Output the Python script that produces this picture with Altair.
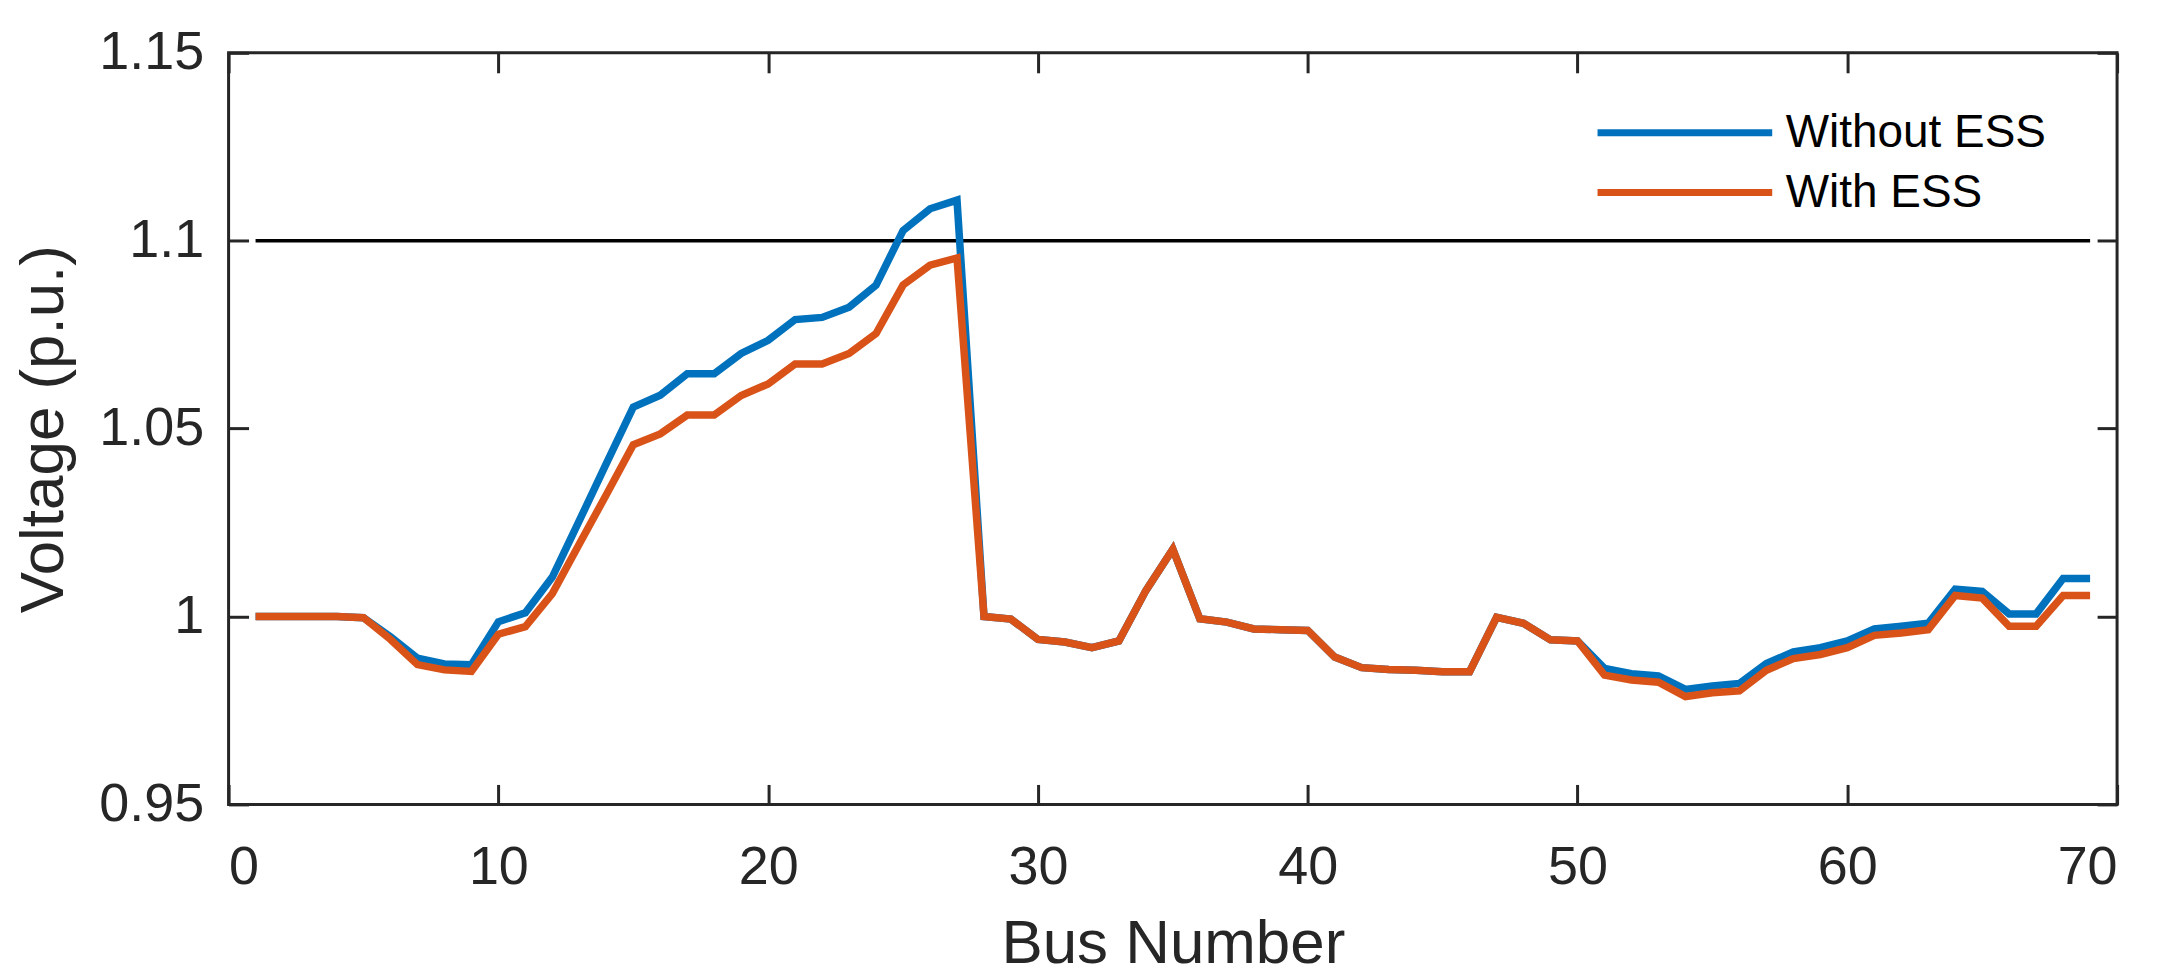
import altair as alt
import pandas as pd

bus = list(range(1, 70))

without_ess = [
    1.0, 1.0, 1.0, 1.0, 0.9997, 0.9946, 0.9889, 0.9874, 0.9872, 0.9986,
    1.001, 1.0105, 1.0255, 1.0407, 1.0557, 1.0589, 1.0646, 1.0646, 1.07, 1.0735,
    1.079, 1.0796, 1.0823, 1.0882, 1.1027, 1.1085, 1.1108, 1.0, 0.9993, 0.9939,
    0.9932, 0.9917, 0.9935, 1.0069, 1.0179, 0.9994, 0.9985, 0.9967, 0.9965, 0.9963,
    0.9892, 0.9864, 0.9859, 0.9857, 0.9853, 0.9853, 0.9998, 0.9982, 0.9938, 0.9935,
    0.9862, 0.9848, 0.9842, 0.9806, 0.9815, 0.9822, 0.9875, 0.9906, 0.9917, 0.9935,
    0.9967, 0.9974, 0.9982, 1.0073, 1.0067, 1.0007, 1.0007, 1.0101, 1.0101,
]

with_ess = [
    1.0, 1.0, 1.0, 1.0, 0.9997, 0.9939, 0.9872, 0.9858, 0.9854, 0.9953,
    0.9973, 1.0061, 1.0193, 1.0324, 1.0457, 1.0486, 1.0536, 1.0536, 1.0588, 1.0619,
    1.0672, 1.0672, 1.07, 1.0753, 1.0882, 1.0935, 1.0954, 1.0, 0.9993, 0.9939,
    0.9932, 0.9917, 0.9935, 1.0069, 1.0179, 0.9994, 0.9985, 0.9967, 0.9965, 0.9963,
    0.9892, 0.9864, 0.9859, 0.9857, 0.9853, 0.9853, 0.9998, 0.9982, 0.9938, 0.9935,
    0.9844, 0.9831, 0.9825, 0.9787, 0.9797, 0.9802, 0.9857, 0.9888, 0.9899, 0.9917,
    0.995, 0.9956, 0.9965, 1.0056, 1.0049, 0.9974, 0.9974, 1.0056, 1.0056,
]

series_names = ["Without ESS", "With ESS"]
series_colors = ["#0072BD", "#D95319"]

limit_bus = [1, 69]
limit_voltage = [1.1, 1.1]

x_ticks = [0, 10, 20, 30, 40, 50, 60, 70]
y_ticks = [0.95, 1.0, 1.05, 1.1, 1.15]

df = pd.DataFrame({
    "bus": bus + bus,
    "voltage": without_ess + with_ess,
    "series": [series_names[0]] * len(bus) + [series_names[1]] * len(bus),
})
limit_df = pd.DataFrame({"bus": limit_bus, "voltage": limit_voltage})

FONT = "Liberation Sans"
AX = "#262626"

x_scale = alt.Scale(domain=[0, 70], nice=False, zero=False)
y_scale = alt.Scale(domain=[0.95, 1.15], nice=False, zero=False)

common_axis = dict(
    offset=-20, tickSize=20, tickWidth=3, tickColor=AX, domain=False, grid=False,
)

lines = alt.Chart(df).mark_line(strokeWidth=7.5).encode(
    x=alt.X("bus:Q", scale=x_scale, axis=alt.Axis(
        orient="bottom", values=x_ticks, labelFont=FONT, labelFontSize=54,
        labelColor=AX, labelPadding=36, title="Bus Number", titleFont=FONT,
        titleFontSize=62, titleFontWeight="normal", titleColor=AX,
        titleBaseline="alphabetic", titleY=178, **common_axis)),
    y=alt.Y("voltage:Q", scale=y_scale, axis=alt.Axis(
        orient="left", values=y_ticks, format="~g", labelFont=FONT,
        labelFontSize=54, labelColor=AX, labelPadding=25,
        title="Voltage (p.u.)", titleFont=FONT, titleFontSize=62,
        titleFontWeight="normal", titleColor=AX, titleBaseline="alphabetic",
        titleX=-186, **common_axis)),
    color=alt.Color("series:N", scale=alt.Scale(domain=series_names, range=series_colors),
                    legend=alt.Legend(
                        title=None, orient="none", legendX=1368, legendY=57,
                        direction="vertical", symbolType="stroke", symbolSize=30625,
                        symbolStrokeWidth=7, labelFont=FONT, labelFontSize=46,
                        labelColor="black", labelOffset=10, labelLimit=600,
                        clipHeight=46, rowPadding=14, padding=0)),
)

limit = alt.Chart(limit_df).mark_line(color="black", strokeWidth=3.5).encode(
    x=alt.X("bus:Q", scale=x_scale, axis=alt.Axis(
        orient="top", values=x_ticks, labels=False, title=None, **common_axis)),
    y=alt.Y("voltage:Q", scale=y_scale, axis=alt.Axis(
        orient="right", values=y_ticks, labels=False, title=None, **common_axis)),
)

chart = alt.layer(limit, lines).resolve_axis(x="independent", y="independent").properties(
    width=1892, height=753,
    autosize=alt.AutoSizeParams(type="none"),
    padding={"left": 221, "top": 44, "right": 40, "bottom": 170},
    background="white",
).configure_view(stroke=AX, strokeWidth=3)

chart.save("out.html", embed_options={"renderer": "svg", "actions": False})
